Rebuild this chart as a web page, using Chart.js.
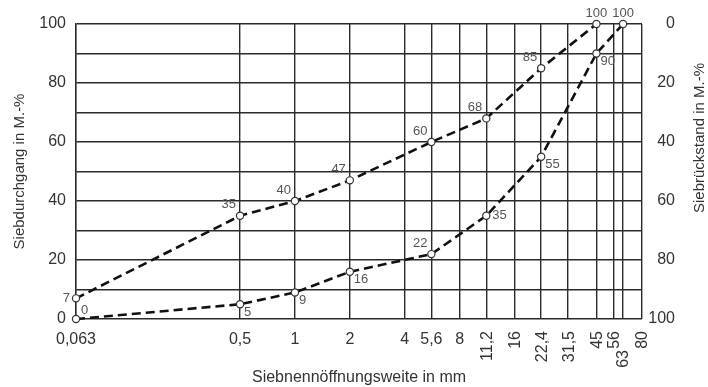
<!DOCTYPE html>
<html>
<head>
<meta charset="utf-8">
<script src="https://cdn.jsdelivr.net/npm/chart.js@4.4.1/dist/chart.umd.min.js"></script>
<style>
  html, body { margin: 0; padding: 0; background: #fff; }
  #wrap { width: 708px; height: 387px; }
</style>
</head>
<body>
<div id="wrap"><canvas id="chart" width="708" height="387"></canvas></div>
<script>
// sieve sizes (mm) and their printed labels
const sieveSizes = [0.063, 0.5, 1, 2, 4, 5.6, 8, 11.2, 16, 22.4, 31.5, 45, 56, 63, 80];
const sieveLabels = ["0,063", "0,5", "1", "2", "4", "5,6", "8", "11,2", "16", "22,4", "31,5", "45", "56", "63", "80"];

// upper grading curve
const upperSizes = [0.063, 0.5, 1, 2, 5.6, 11.2, 22.4, 45];
const upperPassing = [7, 35, 40, 47, 60, 68, 85, 100];

// lower grading curve
const lowerSizes = [0.063, 0.5, 1, 2, 5.6, 11.2, 22.4, 45, 63];
const lowerPassing = [0, 5, 9, 16, 22, 35, 55, 90, 100];

// where the value label sits around each point
const upperLabelPos = ["w", "nw", "nw", "nw", "nw", "nw", "nw", "n"];
const lowerLabelPos = ["ne", "se", "se", "se", "nw", "e", "se", "se", "n"];

const FONT = '"Liberation Sans", Arial, sans-serif';
const INK = "#2b2b2b";

function toPoints(xs, ys) {
  return xs.map(function (x, i) { return { x: x, y: ys[i] }; });
}

const labelPlugin = {
  id: "sieveText",
  afterDraw: function (chart) {
    const ctx = chart.ctx;
    const xs = chart.scales.x;
    const area = chart.chartArea;

    // x tick labels, the coarse ones turned upright
    ctx.save();
    ctx.fillStyle = "#333";
    ctx.font = "16px " + FONT;
    ctx.textBaseline = "middle";
    sieveSizes.forEach(function (v, i) {
      const x = xs.getPixelForValue(v);
      if (v < 10) {
        ctx.textAlign = "center";
        ctx.fillText(sieveLabels[i], x, area.bottom + 21);
      } else {
        ctx.save();
        ctx.translate(x + 1, area.bottom + (v === 63 ? 31 : 12));
        ctx.rotate(-Math.PI / 2);
        ctx.textAlign = "right";
        ctx.fillText(sieveLabels[i], 0, 0);
        ctx.restore();
      }
    });

    // axis titles
    ctx.textAlign = "center";
    ctx.fillText("Siebnennöffnungsweite in mm", (area.left + area.right) / 2, 378);
    ctx.font = "15px " + FONT;
    ctx.save();
    ctx.translate(20, (area.top + area.bottom) / 2);
    ctx.rotate(-Math.PI / 2);
    ctx.fillText("Siebdurchgang in M.-%", 0, 0);
    ctx.restore();
    ctx.save();
    ctx.translate(700, 138);
    ctx.rotate(-Math.PI / 2);
    ctx.fillText("Siebrückstand in M.-%", 0, 0);
    ctx.restore();

    // value labels next to the points
    ctx.font = "13px " + FONT;
    ctx.fillStyle = "#555";
    const places = [upperLabelPos, lowerLabelPos];
    chart.data.datasets.forEach(function (ds, d) {
      const meta = chart.getDatasetMeta(d);
      meta.data.forEach(function (pt, i) {
        const pos = places[d][i];
        let x = pt.x, y = pt.y;
        if (pos === "w") { ctx.textAlign = "right"; x -= 6; }
        else if (pos === "nw") { ctx.textAlign = "right"; x -= 4; y -= 11; }
        else if (pos === "ne") { ctx.textAlign = "left"; x += 5; y -= 9; }
        else if (pos === "se") { ctx.textAlign = "left"; x += 4; y += 8; }
        else if (pos === "e") { ctx.textAlign = "left"; x += 6; }
        else { ctx.textAlign = "center"; y -= 11; }
        ctx.fillText(ds.data[i].y, x, y);
      });
    });
    ctx.restore();
  }
};

const lineStyle = {
  borderColor: "#111",
  borderWidth: 2.6,
  borderDash: [9, 5],
  pointRadius: 3.6,
  pointBackgroundColor: "#fff",
  pointBorderColor: "#333",
  pointBorderWidth: 1.2,
  tension: 0,
  clip: false
};

new Chart(document.getElementById("chart"), {
  type: "line",
  data: {
    datasets: [
      Object.assign({ label: "obere Sieblinie", data: toPoints(upperSizes, upperPassing) }, lineStyle),
      Object.assign({ label: "untere Sieblinie", data: toPoints(lowerSizes, lowerPassing) }, lineStyle)
    ]
  },
  options: {
    responsive: false,
    animation: false,
    devicePixelRatio: 1,
    layout: { padding: { top: 24, left: 0, right: 33, bottom: 0 } },
    plugins: { legend: { display: false }, tooltip: { enabled: false } },
    scales: {
      x: {
        type: "logarithmic",
        min: 0.063,
        max: 80,
        afterBuildTicks: function (scale) {
          scale.ticks = sieveSizes.map(function (v) { return { value: v }; });
        },
        afterFit: function (scale) { scale.height = 68; },
        ticks: { display: false },
        grid: { color: INK, lineWidth: 1.4, drawTicks: false },
        border: { display: false }
      },
      y: {
        min: 0,
        max: 100,
        afterFit: function (scale) { scale.width = 76; },
        ticks: {
          stepSize: 10,
          padding: 10,
          color: "#333",
          font: { size: 16, family: FONT },
          callback: function (v) { return v % 20 === 0 ? v : ""; }
        },
        grid: { color: INK, lineWidth: 1.4, drawTicks: false },
        border: { color: INK, width: 1.4 }
      },
      y2: {
        position: "right",
        min: 0,
        max: 100,
        reverse: true,
        afterFit: function (scale) { scale.width = 33; },
        ticks: {
          stepSize: 20,
          padding: 6,
          crossAlign: "far",
          color: "#333",
          font: { size: 16, family: FONT }
        },
        grid: { display: false, drawTicks: false },
        border: { display: false }
      }
    }
  },
  plugins: [labelPlugin]
});
</script>
</body>
</html>
